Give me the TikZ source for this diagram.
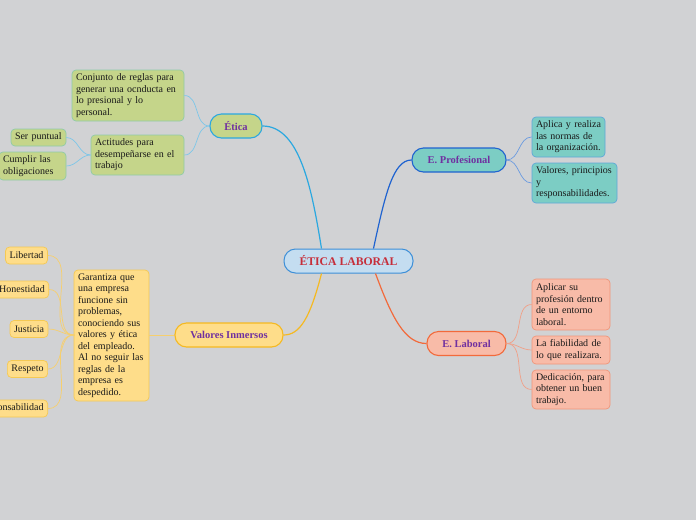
\documentclass[tikz,border=0pt]{standalone}
\usepackage{fontspec}
\setmainfont{Liberation Serif}
\definecolor{bgc}{HTML}{D1D2D4}
\definecolor{cenfill}{HTML}{C4DDF0}
\definecolor{cenbord}{HTML}{3D8FD8}
\definecolor{centext}{HTML}{C62E3A}
\definecolor{ttext}{HTML}{7030A0}
\definecolor{gfill}{HTML}{C5D58A}
\definecolor{gbord}{HTML}{2BA8E0}
\definecolor{glbord}{HTML}{8FCBA8}
\definecolor{gconn}{HTML}{7EC6E8}
\definecolor{tfill}{HTML}{7CCDC4}
\definecolor{tbord}{HTML}{1F63D0}
\definecolor{tlbord}{HTML}{5FA8D8}
\definecolor{tconn}{HTML}{6B9BE0}
\definecolor{sfill}{HTML}{F8BBA8}
\definecolor{sbord}{HTML}{F26A3B}
\definecolor{slbord}{HTML}{F0967A}
\definecolor{sconn}{HTML}{F0A088}
\definecolor{yfill}{HTML}{FEDD8A}
\definecolor{ybord}{HTML}{F5B921}
\definecolor{ylbord}{HTML}{F5C953}
\definecolor{yconn}{HTML}{F6CF6E}
\tikzset{
  topic/.style={draw, line width=1.1pt, rounded corners=11.5pt, minimum height=24pt, inner sep=0pt,
    font=\fontsize{10.5}{12}\selectfont\bfseries, text=ttext, align=center},
  leaf/.style={draw, line width=0.7pt, rounded corners=4pt, inner sep=0pt, inner xsep=4pt,
    font=\fontsize{10}{11.5}\selectfont, text=black!90, align=left},
  gleaf/.style={leaf, fill=gfill, draw=glbord},
  tleaf/.style={leaf, fill=tfill, draw=tlbord},
  sleaf/.style={leaf, fill=sfill, draw=slbord},
  yleaf/.style={leaf, fill=yfill, draw=ylbord},
  lconn/.style={line width=0.7pt},
}
\begin{document}
\begin{tikzpicture}[x=1pt,y=-1pt]
\fill[bgc] (0,0) rectangle (696,520);
\clip (0,0) rectangle (696,520);

% central
\node[draw=cenbord, fill=cenfill, line width=1pt, rounded corners=11.5pt, minimum width=129pt, minimum height=24pt,
  inner sep=0pt, font=\fontsize{11.7}{13}\selectfont\bfseries, text=centext] (cen) at (348.5,261) {ÉTICA LABORAL};

% main topics
\node[topic, fill=gfill, draw=gbord, minimum width=52pt] (eti) at (236,126) {Ética};
\node[topic, fill=tfill, draw=tbord, minimum width=94pt] (pro) at (459,160) {E. Profesional};
\node[topic, fill=sfill, draw=sbord, minimum width=79pt] (lab) at (466.5,343.5) {E. Laboral};
\node[topic, fill=yfill, draw=ybord, minimum width=108pt] (val) at (229,335) {Valores Inmersos};

% main connectors
\draw[gbord, line width=1.2pt] (cen.north west) ++(38,0) coordinate (c1) .. controls (312,190) and (300,126) .. (eti.east);
\draw[tbord, line width=1.2pt] (cen.north east) ++(-40,0) coordinate (c2) .. controls (385,195) and (393,160) .. (pro.west);
\draw[ybord, line width=1.2pt] (cen.south west) ++(38,0) coordinate (c3) .. controls (310,318) and (300,335) .. (val.east);
\draw[sbord, line width=1.2pt] (cen.south east) ++(-38,0) coordinate (c4) .. controls (392,318) and (405,343.5) .. (lab.west);

% Etica leaves
\node[gleaf, text width=104pt, minimum height=51pt] (conj) at (128,95.5) {Conjunto de reglas para\\generar una ocnducta en\\lo presional y lo\\personal.};
\node[gleaf, text width=85pt, minimum height=40pt] (acti) at (137.5,155) {Actitudes para\\desempeñarse en el\\trabajo};
\node[gleaf, text width=47pt, minimum height=17pt] (ser) at (38.5,137.5) {Ser puntual};
\node[gleaf, text width=59pt, minimum height=28pt] (cum) at (32.5,166) {Cumplir las\\obligaciones};
\draw[gconn, lconn] (eti.west) to[out=180,in=0] (conj.east);
\draw[gconn, lconn] (eti.west) to[out=180,in=0] (acti.east);
\draw[gconn, lconn] (acti.west) to[out=180,in=0] (ser.east);
\draw[gconn, lconn] (acti.west) to[out=180,in=0] (cum.east);

% Profesional leaves
\node[tleaf, text width=65pt, minimum height=40pt] (apl) at (568.5,137) {Aplica y realiza\\las normas de\\la organización.};
\node[tleaf, text width=77pt, minimum height=40pt] (vpr) at (574.5,183) {Valores, principios\\y\\responsabilidades.};
\draw[tconn, lconn] (pro.east) to[out=0,in=180] (apl.west);
\draw[tconn, lconn] (pro.east) to[out=0,in=180] (vpr.west);

% Laboral leaves
\node[sleaf, text width=70pt, minimum height=51pt] (aps) at (571,304.5) {Aplicar su\\profesión dentro\\de un entorno\\laboral.};
\node[sleaf, text width=70pt, minimum height=28pt] (fia) at (571,350) {La fiabilidad de\\lo que realizara.};
\node[sleaf, text width=70pt, minimum height=39pt] (ded) at (571,389.5) {Dedicación, para\\obtener un buen\\trabajo.};
\draw[sconn, lconn] (lab.east) to[out=0,in=180] (aps.west);
\draw[sconn, lconn] (lab.east) to[out=0,in=180] (fia.west);
\draw[sconn, lconn] (lab.east) to[out=0,in=180] (ded.west);

% Valores leaves
\node[yleaf, text width=67pt, minimum height=131pt] (gar) at (111.5,335.5) {Garantiza que\\una empresa\\funcione sin\\problemas,\\conociendo sus\\valores y ética\\del empleado.\\Al no seguir las\\reglas de la\\empresa es\\despedido.};
\draw[yconn, lconn] (val.west) -- (gar.east |- val.west);
\coordinate (gw) at (74,335);
\node[yleaf, minimum height=17pt] (lib) at (26.5,255.5) {Libertad};
\node[yleaf, minimum height=17pt] (hon) at (22,289.5) {Honestidad};
\node[yleaf, minimum height=17pt] (jus) at (29,329) {Justicia};
\node[yleaf, minimum height=17pt] (res) at (27.5,369) {Respeto};
\node[yleaf, minimum height=17pt, anchor=east] (rsp) at (48,408.5) {Responsabilidad};
\foreach \n in {lib,hon,jus,res,rsp}{
  \draw[yconn, lconn] (gw) to[out=180,in=0] (\n.east);
}
\end{tikzpicture}
\end{document}
